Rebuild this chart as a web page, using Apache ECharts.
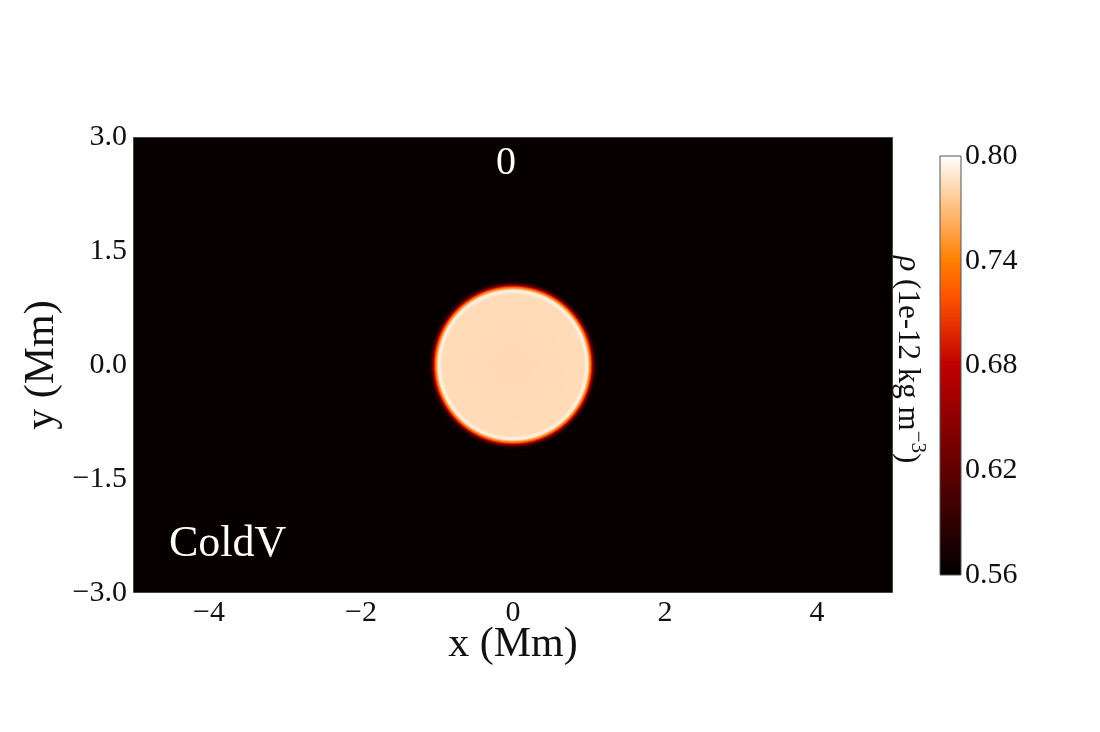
<!DOCTYPE html>
<html>
<head>
<meta charset="utf-8">
<script src="https://cdn.jsdelivr.net/npm/echarts@6/dist/echarts.min.js"></script>
<style>
html,body{margin:0;padding:0;background:#fff;}
#chart{width:1100px;height:732px;}
</style>
</head>
<body>
<div id="chart"></div>
<script>
// ---- data ----
const xRange = [-5, 5];
const yRange = [-3, 3];
const xTicks = [-4, -2, 0, 2, 4];
const yTicks = [-3, -1.5, 0, 1.5, 3];
const cbTicks = [0.56, 0.62, 0.68, 0.74, 0.80];
const rhoRange = [0.56, 0.80];
const ambientRho = 0.564;
const blobCenter = [0, 0];
// radial density profile of the cold blob (r in Mm, rho in 1e-12 kg m^-3)
const profileR   = [0,     0.93,  0.96,  0.985, 1.005, 1.025, 1.045, 1.065, 1.09,  1.12];
const profileRho = [0.782, 0.783, 0.792, 0.790, 0.755, 0.720, 0.665, 0.610, 0.575, 0.564];
const frameLabel = '0';
const runLabel = 'ColdV';

// ---- gist_heat colormap ----
function cmap(v) {
  let f = (v - rhoRange[0]) / (rhoRange[1] - rhoRange[0]);
  f = Math.max(0, Math.min(1, f));
  const r = Math.min(1, 1.5 * f), g = Math.max(0, 2 * f - 1), b = Math.max(0, 4 * f - 3);
  return 'rgb(' + Math.round(r * 255) + ',' + Math.round(g * 255) + ',' + Math.round(b * 255) + ')';
}
const FONT = "'Liberation Serif','Times New Roman',serif";
const fmtNum = (v, d) => (v < 0 ? '\u2212' : '') + Math.abs(v).toFixed(d);

const chart = echarts.init(document.getElementById('chart'));

const cbStops = [];
for (let i = 0; i <= 48; i++) {
  const f = i / 48;
  cbStops.push({offset: f, color: cmap(rhoRange[0] + f * (rhoRange[1] - rhoRange[0]))});
}

const option = {
  backgroundColor: '#fff',
  animation: false,
  grid: [
    {left: 133, top: 137, width: 760, height: 456, show: false},
    {left: 940, top: 156, width: 21, height: 419, show: false}
  ],
  xAxis: [
    {
      gridIndex: 0, type: 'value', min: xRange[0], max: xRange[1], interval: 1,
      name: 'x (Mm)', nameLocation: 'middle', nameGap: 31, nameMoveOverlap: false,
      nameTextStyle: {fontFamily: FONT, fontSize: 42, color: '#111'},
      axisLine: {show: false}, axisTick: {show: false}, splitLine: {show: false},
      axisLabel: {customValues: xTicks, formatter: v => fmtNum(v, 0), fontFamily: FONT, fontSize: 30, color: '#111', margin: 5}
    },
    {
      gridIndex: 1, type: 'value', min: 0, max: 1, show: false
    }
  ],
  yAxis: [
    {
      gridIndex: 0, type: 'value', min: yRange[0], max: yRange[1], interval: 1.5,
      name: 'y (Mm)', nameLocation: 'middle', nameGap: 70, nameMoveOverlap: false,
      nameTextStyle: {fontFamily: FONT, fontSize: 42, color: '#111'},
      axisLine: {show: false}, axisTick: {show: false}, splitLine: {show: false},
      axisLabel: {customValues: yTicks, formatter: v => fmtNum(v, 1), fontFamily: FONT, fontSize: 30, color: '#111', margin: 6}
    },
    {
      gridIndex: 1, type: 'value', min: rhoRange[0], max: rhoRange[1], position: 'right',
      axisLine: {show: false}, splitLine: {show: false}, axisTick: {show: false},
      axisLabel: {customValues: cbTicks, formatter: v => v.toFixed(2), fontFamily: FONT, fontSize: 30, color: '#111', margin: 4}
    }
  ],
  series: [
    {
      type: 'custom', xAxisIndex: 0, yAxisIndex: 0, clip: true, z: 1,
      data: [[xRange[0], yRange[0], xRange[1], yRange[1]]],
      renderItem: function (params, api) {
        const p0 = api.coord([api.value(0), api.value(3)]);
        const p1 = api.coord([api.value(2), api.value(1)]);
        return {
          type: 'rect',
          shape: {x: p0[0], y: p0[1], width: p1[0] - p0[0], height: p1[1] - p0[1]},
          style: {fill: cmap(ambientRho), stroke: '#8a8a8a', lineWidth: 1}
        };
      }
    },
    {
      type: 'custom', xAxisIndex: 0, yAxisIndex: 0, clip: true, z: 2,
      data: [blobCenter],
      renderItem: function (params, api) {
        const c = api.coord([api.value(0), api.value(1)]);
        const rMax = profileR[profileR.length - 1];
        const s = api.size([rMax, rMax]);
        const stops = profileR.map((r, i) => ({offset: r / rMax, color: cmap(profileRho[i])}));
        return {
          type: 'circle',
          shape: {cx: c[0], cy: c[1], r: s[0]},
          style: {fill: {type: 'radial', x: 0.5, y: 0.5, r: 0.5, colorStops: stops}}
        };
      }
    },
    {
      type: 'custom', xAxisIndex: 1, yAxisIndex: 1, z: 1,
      data: [[0, rhoRange[0], 1, rhoRange[1]]],
      renderItem: function (params, api) {
        const p0 = api.coord([api.value(0), api.value(3)]);
        const p1 = api.coord([api.value(2), api.value(1)]);
        return {
          type: 'rect',
          shape: {x: p0[0], y: p0[1], width: p1[0] - p0[0], height: p1[1] - p0[1]},
          style: {fill: {type: 'linear', x: 0, y: 1, x2: 0, y2: 0, colorStops: cbStops}, stroke: '#555', lineWidth: 1}
        };
      }
    }
  ],
  graphic: [
    {
      type: 'text', left: 508 - 12, top: 143, z: 10,
      style: {text: frameLabel, fontFamily: FONT, fontSize: 40, fill: '#fff'}
    },
    {
      type: 'text', left: 169, top: 522, z: 10,
      style: {text: runLabel, fontFamily: FONT, fontSize: 44, fill: '#fff'}
    },
    {
      type: 'text', x: 928, y: 256, rotation: -Math.PI / 2, z: 10,
      style: {
        text: '{it|\u03c1}{n|\u00a0(1e-12 kg m}{sup|\u22123}{n|)}',
        fontFamily: FONT, fill: '#111', align: 'left', verticalAlign: 'top',
        rich: {
          it: {fontFamily: FONT, fontStyle: 'italic', fontSize: 32, lineHeight: 36, verticalAlign: 'bottom'},
          n: {fontFamily: FONT, fontSize: 31, lineHeight: 36, verticalAlign: 'bottom'},
          sup: {fontFamily: FONT, fontSize: 21, lineHeight: 22, verticalAlign: 'top'}
        }
      }
    }
  ]
};
chart.setOption(option);
</script>
</body>
</html>
